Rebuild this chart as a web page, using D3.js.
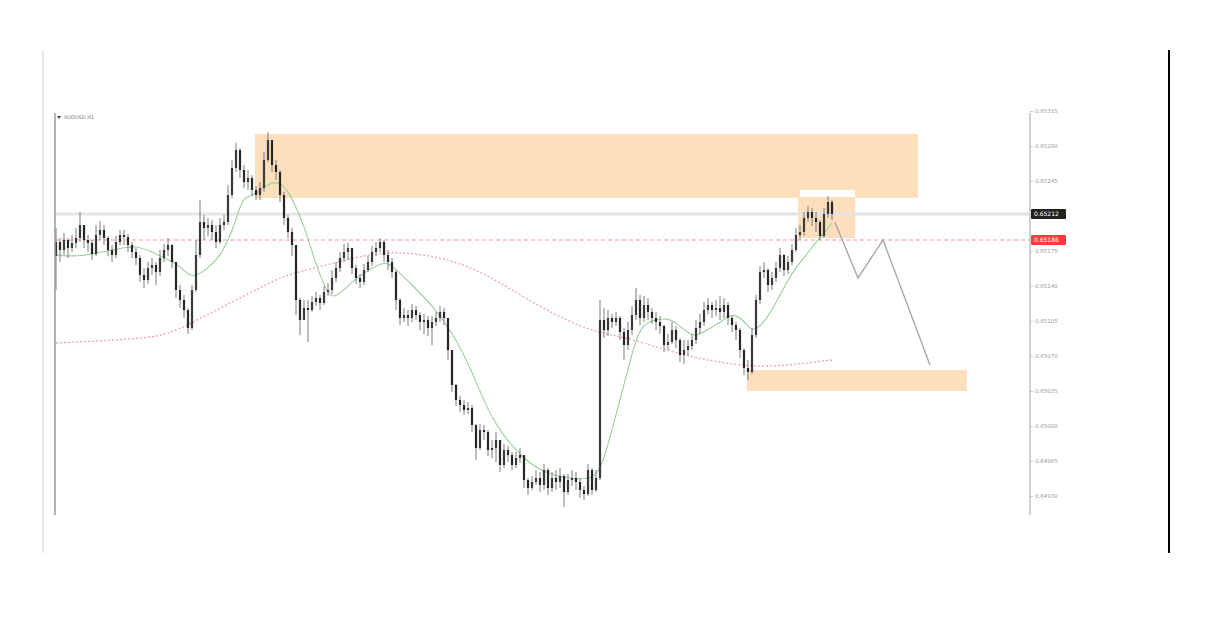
<!DOCTYPE html>
<html><head><meta charset="utf-8">
<script src="https://cdn.jsdelivr.net/npm/d3@7"></script>
<style>html,body{margin:0;padding:0;background:#fff;}svg{display:block;}</style>
</head><body>
<svg id="c" width="1232" height="627"></svg>
<script>
// ---- data (AUDUSD, H1) ----
const symbol = "AUDUSD,H1";
const closes = [0.65184,0.65176,0.65186,0.65178,0.65183,0.65188,0.65201,0.65186,0.65183,0.65172,
0.65191,0.65196,0.65188,0.65176,0.65171,0.65184,0.65191,0.65189,0.65181,0.65174,
0.65168,0.65151,0.65146,0.65158,0.65161,0.65154,0.65168,0.65176,0.65181,0.65164,
0.65136,0.65126,0.65116,0.65098,0.65136,0.65171,0.65204,0.65198,0.65201,0.65194,
0.65184,0.65201,0.65204,0.65231,0.65258,0.65276,0.65256,0.65244,0.65248,0.65236,
0.65231,0.65238,0.65266,0.65286,0.65261,0.65254,0.65231,0.65208,0.65194,0.65181,
0.65126,0.65106,0.65118,0.65116,0.65124,0.65128,0.65123,0.65134,0.65136,0.65148,
0.65158,0.65168,0.65174,0.65178,0.65158,0.65148,0.65144,0.65156,0.65164,0.65174,
0.65178,0.65184,0.65171,0.65164,0.65154,0.65126,0.65108,0.65111,0.65108,0.65116,
0.65111,0.65104,0.65106,0.65098,0.65104,0.65108,0.65114,0.65108,0.65076,0.65041,
0.65026,0.65021,0.65016,0.65018,0.65001,0.64978,0.64996,0.64994,0.64976,0.64978,
0.64986,0.64961,0.64976,0.64971,0.64961,0.64968,0.64971,0.64946,0.64938,0.64944,
0.64948,0.64941,0.64956,0.64938,0.64948,0.64944,0.64950,0.64934,0.64946,0.64948,
0.64944,0.64936,0.64932,0.64956,0.64936,0.64948,0.65106,0.65096,0.65108,0.65104,
0.65108,0.65094,0.65081,0.65096,0.65111,0.65126,0.65108,0.65121,0.65114,0.65108,
0.65104,0.65100,0.65081,0.65084,0.65096,0.65086,0.65071,0.65076,0.65080,0.65086,
0.65098,0.65104,0.65116,0.65121,0.65116,0.65118,0.65114,0.65121,0.65108,0.65101,
0.65096,0.65076,0.65058,0.65054,0.65091,0.65126,0.65154,0.65156,0.65141,0.65148,
0.65158,0.65171,0.65156,0.65164,0.65176,0.65191,0.65194,0.65208,0.65214,0.65208,
0.65204,0.65190,0.65212,0.65224,0.65212];
const highs = [0.65198,0.65188,0.65193,0.65188,0.65191,0.65198,0.65214,0.65201,0.65191,0.65186,
0.65201,0.65205,0.65201,0.65190,0.65181,0.65190,0.65196,0.65196,0.65192,0.65184,
0.65178,0.65171,0.65158,0.65164,0.65168,0.65164,0.65176,0.65182,0.65188,0.65182,
0.65164,0.65141,0.65131,0.65118,0.65141,0.65186,0.65226,0.65211,0.65208,0.65206,
0.65201,0.65208,0.65211,0.65241,0.65266,0.65283,0.65278,0.65261,0.65256,0.65251,
0.65240,0.65244,0.65274,0.65294,0.65281,0.65266,0.65256,0.65234,0.65211,0.65198,
0.65181,0.65128,0.65126,0.65126,0.65130,0.65134,0.65131,0.65140,0.65143,0.65156,
0.65164,0.65174,0.65182,0.65183,0.65178,0.65161,0.65152,0.65162,0.65170,0.65180,
0.65184,0.65188,0.65186,0.65176,0.65168,0.65156,0.65128,0.65118,0.65116,0.65122,
0.65120,0.65114,0.65112,0.65110,0.65110,0.65114,0.65120,0.65118,0.65108,0.65076,
0.65042,0.65030,0.65026,0.65024,0.65021,0.65002,0.65002,0.65001,0.64996,0.64986,
0.64994,0.64986,0.64982,0.64980,0.64974,0.64974,0.64978,0.64971,0.64948,0.64950,
0.64956,0.64954,0.64962,0.64958,0.64954,0.64956,0.64958,0.64952,0.64952,0.64956,
0.64954,0.64948,0.64940,0.64962,0.64958,0.64956,0.65126,0.65118,0.65116,0.65112,
0.65114,0.65110,0.65098,0.65104,0.65120,0.65138,0.65131,0.65130,0.65128,0.65118,
0.65114,0.65110,0.65101,0.65092,0.65104,0.65100,0.65088,0.65086,0.65086,0.65092,
0.65106,0.65112,0.65124,0.65128,0.65124,0.65126,0.65130,0.65128,0.65124,0.65110,
0.65104,0.65098,0.65078,0.65066,0.65098,0.65131,0.65160,0.65164,0.65158,0.65154,
0.65164,0.65178,0.65172,0.65170,0.65182,0.65198,0.65201,0.65214,0.65220,0.65218,
0.65214,0.65206,0.65218,0.65230,0.65226];
const lows = [0.65136,0.65164,0.65171,0.65168,0.65174,0.65178,0.65184,0.65178,0.65174,0.65166,
0.65170,0.65186,0.65181,0.65170,0.65164,0.65168,0.65181,0.65181,0.65174,0.65168,
0.65161,0.65144,0.65138,0.65142,0.65151,0.65141,0.65150,0.65164,0.65170,0.65158,
0.65128,0.65118,0.65108,0.65092,0.65096,0.65134,0.65168,0.65186,0.65190,0.65186,
0.65178,0.65182,0.65196,0.65201,0.65228,0.65254,0.65248,0.65238,0.65236,0.65230,
0.65226,0.65226,0.65234,0.65264,0.65254,0.65246,0.65224,0.65201,0.65188,0.65170,
0.65111,0.65091,0.65108,0.65084,0.65114,0.65120,0.65116,0.65121,0.65130,0.65132,
0.65144,0.65154,0.65164,0.65166,0.65152,0.65142,0.65138,0.65141,0.65154,0.65160,
0.65170,0.65174,0.65164,0.65156,0.65148,0.65116,0.65101,0.65104,0.65100,0.65104,
0.65106,0.65096,0.65092,0.65090,0.65081,0.65100,0.65104,0.65101,0.65066,0.65034,
0.65020,0.65014,0.65011,0.65012,0.64994,0.64966,0.64976,0.64986,0.64970,0.64968,
0.64964,0.64954,0.64958,0.64964,0.64956,0.64958,0.64963,0.64938,0.64931,0.64936,
0.64941,0.64934,0.64936,0.64931,0.64934,0.64936,0.64938,0.64919,0.64931,0.64940,
0.64936,0.64928,0.64926,0.64930,0.64931,0.64934,0.64946,0.65088,0.65090,0.65098,
0.65100,0.65086,0.65066,0.65076,0.65091,0.65106,0.65101,0.65104,0.65106,0.65102,
0.65096,0.65092,0.65074,0.65076,0.65082,0.65078,0.65064,0.65062,0.65070,0.65076,
0.65082,0.65092,0.65100,0.65112,0.65108,0.65110,0.65106,0.65108,0.65101,0.65094,
0.65086,0.65068,0.65051,0.65046,0.65052,0.65088,0.65122,0.65148,0.65134,0.65136,
0.65144,0.65154,0.65150,0.65152,0.65161,0.65174,0.65186,0.65190,0.65204,0.65200,
0.65194,0.65186,0.65188,0.65208,0.65206];
const firstOpen = 0.65170;

// fast moving average (green) read at bar positions
const fastMaBars = [0,6,14,20,24,27,31,34,38,41,44,46,47,50,54,57,59,62,65,67,69,72,75,79,82,84,89,94,99,104,109,117,122,130,135,137,141,144,146,149,153,155,158,160,164,167,169,172,174,177,180,183,185,188,190,192,194];
const fastMaVals = [0.65171,0.65169,0.65176,0.65181,0.65174,0.65168,0.65161,0.65146,0.65158,0.65169,0.65194,0.65219,0.65229,0.65231,0.65246,0.65241,0.65228,0.65201,0.65161,0.65141,0.65126,0.65136,0.65148,0.65158,0.65164,0.65161,0.65141,0.65121,0.65094,0.65056,0.65003,0.64966,0.64953,0.64946,0.64948,0.64966,0.65026,0.65073,0.65099,0.65106,0.65108,0.65103,0.65093,0.65089,0.65099,0.65106,0.65113,0.65106,0.65093,0.65103,0.65123,0.65146,0.65159,0.65173,0.65184,0.65193,0.65203];
// slow moving average (red dotted)
const slowMaBars = [0,15,26,32,40,49,57,65,74,82,90,101,110,121,129,136,142,150,159,167,175,184,194];
const slowMaVals = [0.65083,0.65086,0.65089,0.65099,0.65116,0.65134,0.65151,0.65158,0.65168,0.65174,0.65173,0.65164,0.65146,0.65119,0.65103,0.65093,0.65089,0.65079,0.65069,0.65063,0.65059,0.65061,0.65066];

// price axis (the 0.65210 tick sits under the bid tag, so it is not labelled)
const priceTicks = [0.64930,0.64965,0.65000,0.65035,0.65070,0.65105,0.65140,0.65175,0.65245,0.65280,0.65315];
const bidPrice = 0.65212;
const levelPrice = 0.65186;

// zones
const zoneFrom = [49.75, 185.5, 172.7];
const zoneTo = [215.5, 199.8, 227.7];
const zoneTop = [0.65292, 0.65228, 0.65056];
const zoneBottom = [0.65228, 0.65188, 0.65035];
const markFrom = [186], markTo = [199.75], markTop = [0.65236], markBottom = [0.65229];

// projected path
const projBars = [194.7, 200.5, 206.75, 218.5];
const projPrices = [0.65204, 0.65148, 0.65186, 0.65061];

// ---- drawing ----
const svg = d3.select("#c");
const x = d3.scaleLinear().domain([0, 194]).range([56, 832]);
const y = d3.scaleLinear().domain([0.64911, 0.65313]).range([515, 113]);
const plotL = 55, plotR = 1030;

// outer frame lines
svg.append("line").attr("x1",43).attr("x2",43).attr("y1",50).attr("y2",553).attr("stroke","#e2e2e2").attr("stroke-width",1.5);
svg.append("line").attr("x1",1169).attr("x2",1169).attr("y1",50).attr("y2",553).attr("stroke","#000").attr("stroke-width",2);

// zones
const zg = svg.append("g");
zoneFrom.forEach((f,i)=>{
  zg.append("rect").attr("x",x(f)).attr("width",x(zoneTo[i])-x(f))
    .attr("y",y(zoneTop[i])).attr("height",y(zoneBottom[i])-y(zoneTop[i]))
    .attr("fill","#fddfbe");
});
markFrom.forEach((f,i)=>{
  zg.append("rect").attr("x",x(f)).attr("width",x(markTo[i])-x(f))
    .attr("y",y(markTop[i])).attr("height",y(markBottom[i])-y(markTop[i]))
    .attr("fill","#fff");
});

// horizontal lines
svg.append("line").attr("x1",plotL).attr("x2",plotR).attr("y1",y(bidPrice)).attr("y2",y(bidPrice))
  .attr("stroke","#e4e4e4").attr("stroke-width",3);
svg.append("line").attr("x1",plotL).attr("x2",plotR).attr("y1",y(levelPrice)).attr("y2",y(levelPrice))
  .attr("stroke","#f29a9a").attr("stroke-width",1).attr("stroke-dasharray","4,3");

// slow MA
const slowData = slowMaBars.map((b,i)=>[b, slowMaVals[i]]);
svg.append("path").datum(slowData)
  .attr("d", d3.line().x(d=>x(d[0])).y(d=>y(d[1])).curve(d3.curveBasis))
  .attr("fill","none").attr("stroke","#f3a3a3").attr("stroke-width",1.3).attr("stroke-dasharray","2,2");

// fast MA
const fastData = fastMaBars.map((b,i)=>[b, fastMaVals[i]]);
svg.append("path").datum(fastData)
  .attr("d", d3.line().x(d=>x(d[0])).y(d=>y(d[1])).curve(d3.curveBasis))
  .attr("fill","none").attr("stroke","#9ccf9c").attr("stroke-width",1.1);

// candles (open = previous bar's close)
const bars = closes.map((c,i)=>({i, o: i===0 ? firstOpen : closes[i-1], h: highs[i], l: lows[i], c}));
const cg = svg.append("g");
cg.selectAll("line.w").data(bars).join("line")
  .attr("x1",d=>x(d.i)).attr("x2",d=>x(d.i))
  .attr("y1",d=>y(Math.max(d.h,d.o,d.c))).attr("y2",d=>y(Math.min(d.l,d.o,d.c)))
  .attr("stroke","#7a7a7a").attr("stroke-width",1);
cg.selectAll("rect").data(bars).join("rect")
  .attr("x",d=>x(d.i)-1.1).attr("width",2.2)
  .attr("y",d=>y(Math.max(d.o,d.c)))
  .attr("height",d=>Math.max(1, Math.abs(y(d.o)-y(d.c))))
  .attr("fill",d=>d.c>=d.o ? "#3a3a3a" : "#262626");

// projection
svg.append("path").datum(projBars.map((b,i)=>[b, projPrices[i]]))
  .attr("d", d3.line().x(d=>x(d[0])).y(d=>y(d[1])))
  .attr("fill","none").attr("stroke","#a8a8a8").attr("stroke-width",1.4);

// left axis line
svg.append("line").attr("x1",plotL).attr("x2",plotL).attr("y1",113).attr("y2",515).attr("stroke","#9a9a9a").attr("stroke-width",1.5);

// right price axis
const axis = d3.axisRight(y).tickValues(priceTicks).tickFormat(d3.format(".5f")).tickSize(3).tickPadding(2);
const ag = svg.append("g").attr("transform",`translate(${plotR},0)`).call(axis);
ag.select(".domain").attr("stroke","#d0d0d0").attr("stroke-width",2).attr("d","M0,113V515");
ag.selectAll(".tick line").attr("stroke","#c8c8c8");
ag.selectAll(".tick text").attr("fill","#9a9a9a").attr("font-size",5.5).attr("font-family","DejaVu Sans, sans-serif");

// price tags
function tag(price, fill){
  const g = svg.append("g");
  g.append("rect").attr("x",plotR+1).attr("y",y(price)-5).attr("width",35).attr("height",10).attr("rx",1).attr("fill",fill);
  g.append("text").attr("x",plotR+4).attr("y",y(price)+2).attr("fill","#fff").attr("font-size",6)
    .attr("font-family","DejaVu Sans, sans-serif").text(d3.format(".5f")(price));
}
tag(bidPrice, "#222");
tag(levelPrice, "#ff3b3b");

// symbol caption
svg.append("path").attr("d",`M${plotL+2},${y(0.65310)} l4,0 l-2,3 z`).attr("fill","#444");
svg.append("text").attr("x",plotL+9).attr("y",y(0.65310)+3).attr("font-size",5).attr("fill","#777")
  .attr("font-family","DejaVu Sans, sans-serif").text(symbol);
</script>
</body></html>
